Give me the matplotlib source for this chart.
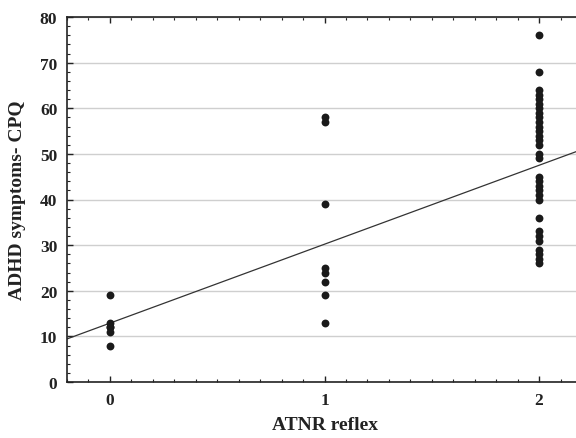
import matplotlib
matplotlib.use("Agg")
import matplotlib.pyplot as plt
import numpy as np
from matplotlib.ticker import MultipleLocator

# Data
atnr_0 = [19, 13, 12, 12, 11, 8]
atnr_1 = [58, 57, 39, 25, 24, 22, 19, 13]
atnr_2 = [76, 68, 64, 63, 62, 61, 60, 59, 58, 57, 56, 55, 54, 53, 52, 50, 49,
          45, 44, 43, 42, 41, 40, 36, 33, 32, 31, 29, 28, 27, 26]
fit_intercept = 12.9
fit_slope = 17.3

x_labels = ["0", "1", "2"]
x_title = "ATNR reflex"
y_title = "ADHD symptoms- CPQ"

plt.rcParams['font.family'] = ['Liberation Serif', 'DejaVu Serif']
plt.rcParams['font.weight'] = 'bold'

fig = plt.figure(figsize=(5.76, 4.39), dpi=100)
ax = fig.add_axes([67/576, 56/439, (582-67)/576, (383-18)/439])

xs = []
ys = []
for i, grp in enumerate([atnr_0, atnr_1, atnr_2]):
    xs += [i] * len(grp)
    ys += grp
ax.scatter(xs, ys, s=32, color='#1a1a1a', zorder=3, linewidths=0)

xl = np.array([-0.2, 2.2])
ax.plot(xl, fit_intercept + fit_slope * xl, color='#333333', lw=0.9, zorder=2)

ax.set_xlim(-0.2, 2.2)
ax.set_ylim(0, 80)
ax.set_xticks([0, 1, 2])
ax.set_xticklabels(x_labels)
ax.xaxis.set_minor_locator(MultipleLocator(0.1))
ax.yaxis.set_major_locator(MultipleLocator(10))
ax.yaxis.set_minor_locator(MultipleLocator(2))
ax.tick_params(which='both', direction='in', top=True, right=True, color='#222222')
ax.tick_params(which='major', length=4, width=1)
ax.tick_params(which='minor', length=2.5, width=0.8)
ax.tick_params(axis='both', which='major', labelsize=12.5, pad=7, labelcolor='#222222')

ax.grid(axis='y', which='major', color='#cfcfcf', lw=1, zorder=0)
for s in ax.spines.values():
    s.set_linewidth(1.2)
    s.set_color('#222222')

ax.set_xlabel(x_title, fontsize=14, fontweight='bold', color='#222222', labelpad=6)
ax.set_ylabel(y_title, fontsize=14, fontweight='bold', color='#222222', labelpad=10)

fig.savefig("out.png", dpi=100)
